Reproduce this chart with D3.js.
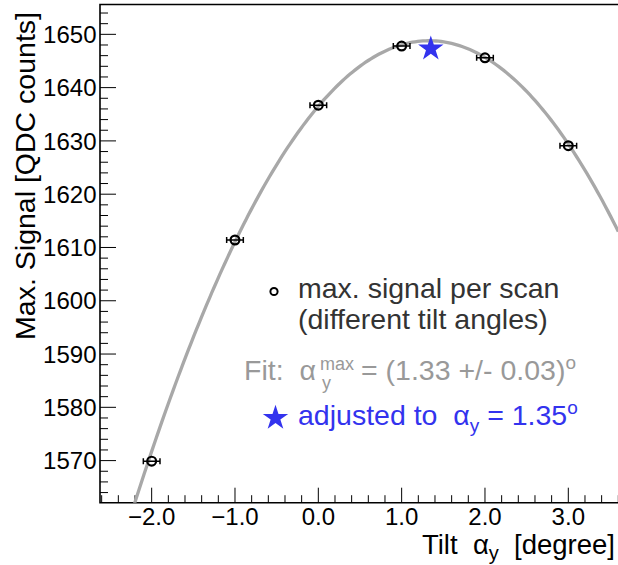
<!DOCTYPE html>
<html>
<head>
<meta charset="utf-8">
<script src="https://cdn.jsdelivr.net/npm/d3@7"></script>
<style>
  html, body { margin: 0; padding: 0; background: #fff; }
  svg { display: block; font-family: "Liberation Sans", Arial, Helvetica, sans-serif; }
</style>
</head>
<body>
<svg id="chart" width="618" height="565"></svg>
<script>
// Measured tilt scan: maximum signal per tilt angle
const tiltAngles = [-2, -1, 0, 1, 2, 3];
const maxSignal = [1569.9, 1611.4, 1636.7, 1647.8, 1645.6, 1629.1];
const tiltErr = [0.1, 0.1, 0.1, 0.1, 0.1, 0.1];

// Parabolic fit: peak position, peak value and curvature
const fitPeakX = 1.33;
const fitPeakY = 1648.8;
const fitCurv = 6.95;

// Adjusted working point
const adjustedTilt = 1.35;
const adjustedSignal = 1647.3;

const xTicks = [-2, -1, 0, 1, 2, 3];
const yTicks = [1570, 1580, 1590, 1600, 1610, 1620, 1630, 1640, 1650];

const NB = "\u00A0";
const svg = d3.select("#chart");
const L = 100, T = 4.5, B = 502.7, R = 618.3;

const x = d3.scaleLinear().domain([-2.62, 3.6]).range([L, R]);
const y = d3.scaleLinear().domain([1562.1, 1655.6]).range([B, T]);

svg.append("defs").append("clipPath").attr("id", "plotclip")
  .append("rect").attr("x", L).attr("y", T).attr("width", R - L + 5).attr("height", B - T);

// Frame (right side runs past the window edge)
svg.append("path")
  .attr("d", `M${R + 5},${T}H${L}V${B}H${R + 5}`)
  .attr("fill", "none").attr("stroke", "#000").attr("stroke-width", 1.6);

// X axis ticks (inward) and labels
const xMinor = d3.range(-2.6, 3.61, 0.2).map(v => +v.toFixed(2)).filter(v => x(v) >= L && x(v) <= R);
const gx = svg.append("g");
gx.selectAll("line").data(xMinor).join("line")
  .attr("x1", d => x(d)).attr("x2", d => x(d))
  .attr("y1", B).attr("y2", d => xTicks.some(t => Math.abs(t - d) < 1e-6) ? B - 15 : B - 7.5)
  .attr("stroke", "#000").attr("stroke-width", 1);
gx.selectAll("text").data(xTicks).join("text")
  .attr("x", d => x(d)).attr("y", 525)
  .attr("text-anchor", "middle").attr("font-size", 24).attr("fill", "#000")
  .text(d => d3.format(".1f")(d).replace("-", "\u2212"));

// Y axis ticks (inward) and labels
const yMinor = d3.range(1564, 1656, 2).filter(v => y(v) >= T && y(v) <= B);
const gy = svg.append("g");
gy.selectAll("line").data(yMinor).join("line")
  .attr("y1", d => y(d)).attr("y2", d => y(d))
  .attr("x1", L).attr("x2", d => d % 10 === 0 ? L + 16 : L + 8)
  .attr("stroke", "#000").attr("stroke-width", 1);
gy.selectAll("text").data(yTicks).join("text")
  .attr("x", 96.5).attr("y", d => y(d)).attr("dy", "0.36em")
  .attr("text-anchor", "end").attr("font-size", 24).attr("fill", "#000")
  .text(d => d);

// Axis titles
svg.append("text")
  .attr("transform", "translate(35,12) rotate(-90)")
  .attr("text-anchor", "end").attr("font-size", 28.5).attr("fill", "#000")
  .text("Max. Signal [QDC counts]");

const xt = svg.append("text")
  .attr("x", 615).attr("y", 554).attr("text-anchor", "end")
  .attr("font-size", 27.5).attr("fill", "#000");
xt.append("tspan").text(`Tilt${NB}${NB}\u03B1`);
xt.append("tspan").attr("font-size", 20).attr("dy", 6).text("y");
xt.append("tspan").attr("dy", -6).text(`${NB}${NB}[degree]`);

// Fit curve
const plot = svg.append("g").attr("clip-path", "url(#plotclip)");
const fitFn = v => fitPeakY - fitCurv * (v - fitPeakX) * (v - fitPeakX);
const xs = d3.range(200).map(i => x.domain()[0] + i * (x.domain()[1] - x.domain()[0]) / 199);
plot.append("path")
  .datum(xs)
  .attr("d", d3.line().x(d => x(d)).y(d => y(fitFn(d))))
  .attr("fill", "none").attr("stroke", "#a8a8a8").attr("stroke-width", 3.3);

// Data points with horizontal errors
const pts = tiltAngles.map((t, i) => ({ t, s: maxSignal[i], e: tiltErr[i] }));
const gp = plot.append("g");
gp.selectAll("path").data(pts).join("path")
  .attr("d", d => `M${x(d.t - d.e)},${y(d.s)}H${x(d.t + d.e)}` +
    `M${x(d.t - d.e)},${y(d.s) - 3}v6M${x(d.t + d.e)},${y(d.s) - 3}v6`)
  .attr("fill", "none").attr("stroke", "#000").attr("stroke-width", 1.5);
gp.selectAll("circle").data(pts).join("circle")
  .attr("cx", d => x(d.t)).attr("cy", d => y(d.s)).attr("r", 4.4)
  .attr("fill", "none").attr("stroke", "#000").attr("stroke-width", 2.2);

// Adjusted point star
const star = d3.symbol().type(d3.symbolStar).size(200);
plot.append("path")
  .attr("d", star())
  .attr("transform", `translate(${x(adjustedTilt)},${y(adjustedSignal)})`)
  .attr("fill", "#3333ee");

// Legend
svg.append("circle").attr("cx", 274).attr("cy", 291.5).attr("r", 3.6)
  .attr("fill", "none").attr("stroke", "#000").attr("stroke-width", 2);
svg.append("text").attr("x", 298).attr("y", 298).attr("font-size", 28.5).attr("fill", "#333")
  .text("max. signal per scan");
svg.append("text").attr("x", 298).attr("y", 329).attr("font-size", 28.5).attr("fill", "#333")
  .text("(different tilt angles)");

const fitTxt = svg.append("text").attr("x", 244).attr("y", 380)
  .attr("font-size", 28.5).attr("fill", "#999");
fitTxt.append("tspan").text(`Fit:${NB}${NB}\u03B1`);
fitTxt.append("tspan").attr("font-size", 18).attr("x", 320).attr("dy", -10).text("max");
fitTxt.append("tspan").attr("font-size", 18).attr("x", 322).attr("dy", 19).text("y");
fitTxt.append("tspan").attr("x", 361).attr("dy", -9).text("= (1.33 +/- 0.03)");
fitTxt.append("tspan").attr("font-size", 19).attr("dy", -11).text("o");

svg.append("path").attr("d", star())
  .attr("transform", "translate(275.5,418)").attr("fill", "#3333ee");
const adjTxt = svg.append("text").attr("x", 298).attr("y", 425)
  .attr("font-size", 28.5).attr("fill", "#3333ee");
adjTxt.append("tspan").text(`adjusted to${NB}${NB}\u03B1`);
adjTxt.append("tspan").attr("font-size", 19).attr("dy", 7).text("y");
adjTxt.append("tspan").attr("dy", -7).text(`${NB}=${NB}1.35`);
adjTxt.append("tspan").attr("font-size", 19).attr("dy", -11).text("o");
</script>
</body>
</html>
